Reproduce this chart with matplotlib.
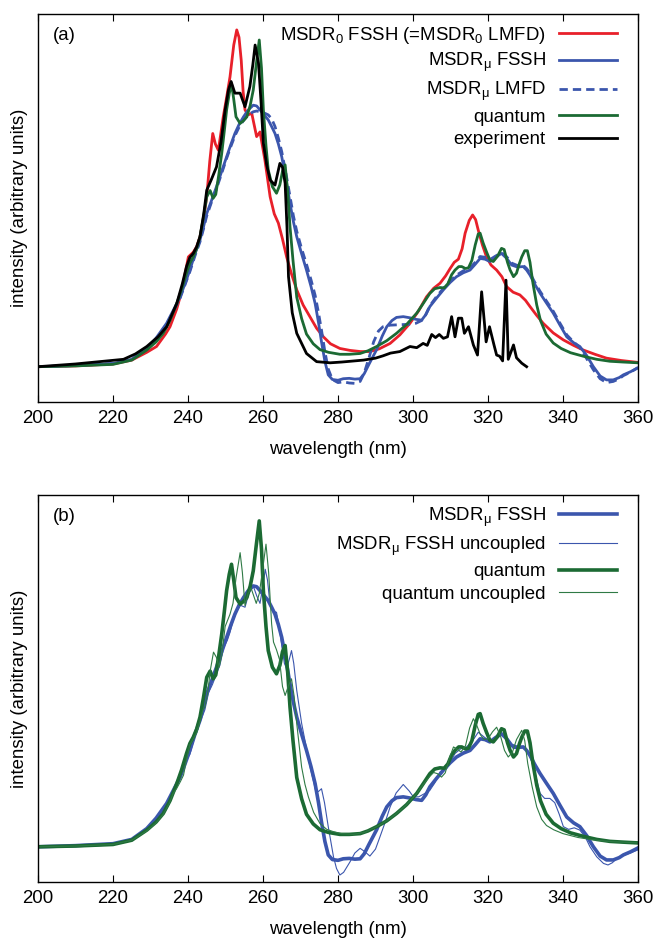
import matplotlib
matplotlib.use("Agg")
import matplotlib.pyplot as plt

plt.rcParams['font.family'] = ['Liberation Sans', 'DejaVu Sans']
plt.rcParams['mathtext.fontset'] = 'custom'
plt.rcParams['mathtext.rm'] = 'Liberation Sans'
plt.rcParams['mathtext.it'] = 'Liberation Sans:italic'
plt.rcParams['mathtext.bf'] = 'Liberation Sans:bold'

# ---------------- data (wavelength nm, intensity arb. units) ----------------
red_wl = [200, 210, 220, 225, 229, 231.6, 234, 235.2, 237, 237.9, 239, 240.1, 241.4, 242.3, 243.2, 244.2,
          245, 245.8, 246.6, 247.3, 248.1, 249.4, 250.3, 251.2, 252.2, 253, 253.6, 254.2, 254.7, 255.2, 256,
          257, 258.3, 259.2, 260.5, 261.9, 263, 264.1, 265.2, 266.3, 267.6, 269, 270.7, 272.5, 274.3, 276.1,
          278, 280.5, 283.2, 286, 288.5, 291, 293.9, 296.5, 299.2, 301.5, 303.6, 305.5, 307.2, 308.7, 309.9,
          311, 312.1, 313.1, 313.9, 315, 315.9, 316.7, 317.4, 318.5, 319.6, 320.8, 322.3, 323.7, 325, 326.7,
          328.5, 330, 331.2, 333, 334.7, 337.4, 340.1, 342.8, 345.4, 348.5, 351.6, 355.5, 360]
red_I = [9.1, 9.3, 9.8, 10.8, 12.8, 14.3, 17.5, 19.4, 24, 27.1, 32, 37.4, 38.6, 40, 42.6, 47.5,
         52.9, 62, 69.2, 66.5, 64.9, 73.5, 78.5, 83.8, 92, 95.9, 94, 88, 80, 75.3, 74,
         74.4, 68.4, 69.6, 62.4, 52.9, 48.5, 46.1, 42, 37.4, 33, 28.9, 25, 22.0, 19.0, 16.8,
         15.0, 13.8, 13.3, 13.0, 13.0, 13.7, 15.1, 17.3, 20.3, 23.5, 27.1, 29.3, 30.6, 32.5, 34.4,
         36, 36.8, 39.5, 43.5, 46.8, 48.2, 47, 44.3, 40.5, 37.4, 35.3, 34.0, 32.3, 29.7, 28.3,
         27.6, 26.2, 24.6, 22.3, 20.3, 17.8, 16.0, 14.6, 13.4, 12.3, 11.3, 10.7, 10.2]

blue_wl = [200, 210, 220, 225, 229, 231.5, 234.3, 236, 237.9, 239.2, 240.5, 241.8, 243.2, 244.1, 245, 246.3,
           247.6, 249, 250.3, 251.4, 252.5, 253.6, 254.8, 256, 257.4, 258.3, 259.2, 260.3, 261.4, 262.3,
           263.2, 264.1, 265, 266.1, 267.2, 268.1, 269, 270.3, 271.6, 272.8, 273.9, 274.8, 275.6, 276.5,
           277.4, 278.5, 280, 281.4, 283, 284.5, 285.9, 287, 288.3, 290.3, 291.8, 293, 294.4, 295.6, 297.4,
           299.2, 300.8, 302.3, 303.4, 304.5, 306.3, 308.1, 309.9, 311.6, 313.4, 315.2, 316.6, 317.9, 319.2,
           320.5, 322, 323.6, 325, 326.3, 327.8, 329.4, 330.3, 331.2, 332.5, 333.9, 335.6, 337.4, 339.2,
           341, 342.8, 344.5, 346.3, 348.1, 349.9, 351.6, 353.4, 355, 356.1, 358, 360]
blue_I = [9.1, 9.4, 9.9, 11.0, 13.8, 16.5, 20.3, 23.5, 27.1, 30.5, 34.0, 38, 41.8, 45, 48.6, 52,
          55.5, 59.5, 63.2, 66.3, 69.2, 71.5, 73.5, 75.2, 76.5, 76.3, 75.3, 74, 72.7, 71,
          69.2, 66.5, 63.2, 57.5, 51.2, 46.5, 42.6, 38.2, 34.0, 29.8, 25.4, 20.5, 15.5, 10.5,
          7.0, 5.8, 5.6, 6.0, 6.1, 5.9, 6.0, 7.3, 9.8, 13.5, 17.0, 19.4, 21.0, 21.8, 22.0,
          21.7, 21.3, 21.1, 22.5, 24.6, 26.8, 28.9, 30.8, 32.3, 33.3, 34.0, 35.5, 37.0, 36.8,
          36.2, 37.3, 38.3, 37.0, 35.3, 34.8, 34.9, 34, 32.7, 30.3, 28.0, 25.5, 22.9, 19.8,
          16.8, 15.3, 14.3, 12.0, 9.1, 6.7, 5.7, 5.7, 6.3, 7.0, 7.8, 8.8]

bdash_wl = [200, 210, 220, 225, 229, 231.5, 234.3, 236, 237.9, 239.2, 240.5, 241.8, 243.2, 244.1, 245, 246.3,
            247.6, 249, 250.3, 251.4, 252.5, 253.6, 254.8, 256, 257.4, 258.3, 259.2, 260.3, 261.4, 262.3,
            263.2, 264.1, 265, 266.1, 267.2, 268.1, 269, 270.3, 271.6, 272.8, 273.9, 274.8, 275.6, 276.5,
            277.4, 278.5, 280, 281.4, 283, 284.5, 285.9, 287, 288.3, 289.5, 290.8, 292, 293.9, 296, 298.5,
            300.8, 302.3, 303.4, 304.5, 306.3, 308.1, 309.9, 311.6, 313.4, 315.2, 316.6, 317.9, 319.2,
            320.5, 322, 323.6, 325, 326.3, 327.8, 329.4, 330.3, 331.2, 332.5, 333.9, 335.6, 337.4, 339.2,
            341, 342.8, 344.5, 346.3, 348.1, 349.9, 351.6, 353.4, 355, 356.1, 358, 360]
bdash_I = [9.1, 9.4, 9.9, 11.0, 13.6, 16.2, 20.0, 23.2, 26.8, 30.2, 33.6, 37.5, 41.3, 44.5, 48.0, 51.6,
           55.0, 59.0, 62.8, 65.8, 68.6, 70.8, 72.6, 74.0, 74.8, 75.0, 74.8, 74.5, 74.0, 73.0,
           71.0, 68.0, 64.5, 59.0, 53.0, 48.0, 44.0, 39.5, 35.5, 31.5, 27.5, 23.0, 18.5, 13.0,
           8.5, 5.8, 5.0, 5.2, 4.9, 4.8, 5.3, 7.5, 11.5, 15.5, 18.3, 19.4, 19.8, 19.9, 20.0,
           20.3, 21.0, 22.5, 24.8, 27.2, 29.3, 31.2, 32.7, 33.8, 34.6, 36.0, 37.5, 37.3,
           36.7, 37.6, 38.5, 37.4, 35.8, 35.2, 35.2, 34.4, 33.2, 30.8, 28.5, 26.0, 23.4, 20.3,
           17.3, 15.5, 14.0, 11.2, 8.3, 6.0, 5.0, 5.3, 6.0, 6.8, 7.7, 8.9]

green_wl = [200, 210, 220, 225, 229, 231.5, 233.4, 235.2, 237, 238.3, 239.6, 240.5, 241.4, 242.3, 243.2, 244.1,
            245, 245.9, 246.7, 247.4, 248.2, 249, 249.7, 250.3, 251, 251.6, 252.2, 252.8, 253.9, 254.8, 255.7,
            256.6, 257.4, 258.2, 259, 259.6, 260.1, 260.8, 261.4, 262.5, 263.6, 264.5, 265.2, 265.9, 266.6,
            267.2, 268, 269, 270.3, 271.6, 273.4, 275.2, 277.5, 280.5, 283, 285.9, 288, 290.3, 293, 295.6,
            298.3, 301, 302.8, 304.5, 305.8, 307.2, 308.3, 309.3, 310.3, 311.2, 312.2, 313, 314, 314.8, 315.7,
            316.6, 317.4, 317.9, 318.7, 319.6, 320.5, 321.4, 322.5, 323.6, 324.3, 325.2, 325.9, 326.8, 327.6,
            328.3, 329, 329.8, 330.5, 331.2, 332, 333, 334, 335.5, 337.4, 339.5, 342, 345.4, 349, 352.5,
            356, 360]
green_I = [9.1, 9.3, 9.7, 10.8, 13.4, 15.5, 17.7, 21, 25.4, 29, 33.2, 35.8, 37.4, 39.5, 42.6, 47.5,
           52.9, 54.5, 52.5, 53.5, 58.5, 64.1, 70, 75.3, 79.5, 82.1, 78, 73.5, 71.8, 72.5, 73.5,
           76.5, 80.4, 87, 93.3, 86, 75.3, 66, 59.8, 55.5, 53.8, 56, 59.5, 61.1, 54,
           45.2, 36.5, 27, 21.5, 17.5, 15, 13.5, 12.8, 12.3, 12.3, 12.5, 13.2, 14.3, 15.8, 17.7,
           20, 22.9, 25.5, 28.0, 29.2, 29.5, 29.4, 30.5, 32.8, 34.0, 34.9, 34.9, 34.4, 34.6, 36.5,
           40.5, 43.3, 43.5, 41, 38.7, 36.6, 36.2, 37.5, 39.6, 39.3, 36, 34.0, 32.3, 33.2,
           35.5, 37.4, 39, 39.0, 36, 30.5, 25, 21, 17.5, 15.2, 13.8, 12.7, 11.8, 11, 10.5,
           10.3, 10.1]

black_wl = [200, 210, 222.8, 226, 229, 232, 234.3, 237, 238.5, 239.6, 240.5, 241.4, 242.3, 243.2, 244.2, 245,
            246.3, 247.6, 248.8, 249.9, 250.8, 251.5, 252.5, 253.9, 255.2, 256.5, 257.3, 257.9, 258.8, 259.5,
            260.1, 261, 261.9, 263.2, 264.5, 265.2, 265.9, 266.4, 266.8, 267.8, 269, 271.6, 274.3, 277.9,
            281, 286.8, 290, 292, 294, 296.5, 299.2, 301, 302.7, 303.8, 305, 306, 307, 308.1, 309.2, 310.3,
            311.2, 312.1, 313, 313.7, 314.8, 316.1, 317.2, 318.3, 319.5, 320.4, 321.6, 322.3, 323.1, 323.9,
            324.8, 325.4, 326.8, 327.6, 329, 330.3]
black_I = [9.1, 9.8, 11.0, 12.4, 14.3, 16.8, 19.4, 25.4, 30.5, 34.9, 37.3, 38.3, 40.0, 42.6, 48.5, 54.6,
           57.5, 60.6, 67, 75.3, 80.5, 82.6, 79.6, 79.6, 76.1, 81.3, 87, 92.0, 87.3, 77,
           66.7, 61, 57.2, 55.9, 61.5, 60.5, 56.4, 45, 32.3, 23, 17.7, 12.5, 10.4, 10.1,
           10.3, 10.8, 11.3, 11.9, 12.6, 13.0, 14.3, 14.0, 15.1, 14.6, 17.4, 16.6, 17.4, 16.4, 16.8, 22.0,
           16.8, 21.6, 21.6, 17.7, 19.4, 14.7, 12.1, 28.4, 15.5, 19.4, 14.7, 12.1, 11.8, 10.6,
           31.4, 11.0, 14.7, 11.4, 10.0, 9.1]

bthin_wl = [200, 210, 220, 225, 229, 231.5, 234.3, 236, 237.5, 238.5, 239.5, 240.5, 241.5, 242.5, 243.5, 244.5,
            245.5, 246.5, 247.5, 248.5, 249.5, 250.5, 251.2, 252, 253, 254, 255.2, 256.2, 257.4, 258.3, 259.2,
            260, 260.6, 261.2, 261.9, 262.6, 263.6, 264.3, 265, 265.7, 266.3, 267, 267.6, 268.2, 269, 270.3,
            271.7, 272.6, 273.4, 274.1, 274.8, 275.6, 276.4, 277.4, 278.8, 279.6, 280.5, 281.5, 283.2, 284.5,
            285.9, 287.2, 288.5, 290, 291.2, 292.6, 293.9, 295.5, 297.4, 299, 300.1, 301.5, 303, 304.5, 305.8,
            307.2, 308.2, 309, 310.1, 311.2, 312.7, 314.3, 315.9, 317.4, 318.8, 320.1, 321.3, 322.5, 323.8,
            325.2, 326.7, 328, 329.5, 331, 332.2, 333.9, 335.1, 336.5, 337.8, 339, 340.1, 341.5, 343, 344.5,
            346, 347.2, 349, 350.8, 352, 353.2, 354.3, 356.5, 358, 360]
bthin_I = [9.1, 9.4, 9.9, 11.0, 13.6, 16.2, 20.0, 23.0, 25.8, 28.5, 31.5, 33.0, 36.5, 40.0, 42.0, 44.5,
           49.0, 51.0, 53.5, 56.0, 60.5, 62.5, 64.5, 67.5, 70.0, 71.5, 71.0, 74.5, 76.5, 74.0, 72.0,
           76.5, 80.8, 78, 71.4, 70, 69.7, 66, 61.1, 56.5, 55.2, 57.5, 59.8, 56.5, 49.5, 41.0,
           34.0, 29.5, 26.3, 23.3, 23.4, 24.1, 20.5, 14.3, 6.5, 3.5, 1.8, 2.5, 5.2, 7.5,
           8.7, 7.8, 6.7, 8.5, 11.7, 15.5, 19.4, 23.0, 25.2, 23.5, 22.0, 22.0, 22.8, 23.7, 25.6,
           28.4, 29.1, 29.3, 31.3, 33.2, 34.4, 34.9, 36.5, 38.7, 37.6, 36.6, 36.7, 38.0, 38.3,
           36.5, 34.5, 34.5, 34.8, 33.0, 29.5, 22.9, 21.6, 21.6, 20.5, 17.5, 14.3, 13.6, 14.0, 13.4,
           11.5, 9.1, 6.5, 4.8, 4.4, 5.0, 6.1, 7.0, 7.5, 8.3]

gthin_wl = [200, 210, 220, 225, 229, 231.5, 233.4, 235, 236, 237, 238, 238.8, 239.6, 240.5, 241.4, 242.3,
            243.2, 244, 244.5, 245.2, 246, 246.8, 247.6, 248.3, 249, 249.9, 251.2, 252, 252.8, 253.9, 254.5,
            255.2, 256, 256.8, 257.5, 258.2, 259, 259.8, 260.8, 261.5, 262.3, 262.8, 263.6, 264.4, 265.2,
            265.9, 266.7, 267.6, 268.3, 269, 270.3, 271.2, 272.1, 273.5, 275.2, 277, 278.8, 281, 284, 287,
            290.3, 293, 295.6, 298.3, 301, 302.8, 304.5, 305.5, 306.5, 307.6, 308.6, 309.7, 310.8, 311.8,
            312.8, 314, 315.1, 316.1, 317, 318, 319, 320, 321.2, 322.3, 323.4, 324.4, 325.4, 326.5, 327.6,
            329, 329.8, 330.6, 331.8, 333, 334.3, 335.6, 337.5, 340, 344, 348, 352, 356, 360]
gthin_I = [9.1, 9.3, 9.7, 10.8, 13.2, 15.3, 17.5, 20.3, 22.8, 24.2, 26.0, 27.6, 31.5, 35.5, 37.0, 38.5,
           41.5, 44.5, 45.2, 48.5, 55.0, 59.4, 58.0, 55.5, 58.5, 66.0, 69.2, 72.0, 78.5, 85.1, 80.0,
           71.4, 74.5, 76.0, 74.0, 72.0, 74.5, 80.0, 87.3, 80.0, 66.7, 62.0, 60.0, 57.5, 50.5,
           48.2, 50.5, 52.5, 48.0, 40.9, 29.7, 25.2, 22.0, 18.0, 15.1, 13.6, 13.0, 12.5, 12.3, 12.8,
           14.3, 15.8, 17.7, 20.0, 22.9, 25.3, 27.3, 28.3, 28.0, 27.1, 28.2, 32.0, 34.9, 34.3,
           33.6, 35.2, 39.8, 42.2, 40.5, 38.0, 36.8, 37.0, 38.8, 40.0, 37.5, 34.0, 32.3, 33.5, 36.8,
           39.2, 36.5, 30.6, 24.5, 19.4, 16.2, 14.6, 13.5, 12.5, 11.5, 10.9, 10.5, 10.3, 10.1]

xticks = [200, 220, 240, 260, 280, 300, 320, 340, 360]

labels_a = ["MSDR$_0$ FSSH (=MSDR$_0$ LMFD)", "MSDR$_\\mathrm{\\mu}$ FSSH", "MSDR$_\\mathrm{\\mu}$ LMFD",
            "quantum", "experiment"]
labels_b = ["MSDR$_\\mathrm{\\mu}$ FSSH", "MSDR$_\\mathrm{\\mu}$ FSSH uncoupled", "quantum", "quantum uncoupled"]

RED = "#e8202a"
BLUE = "#3b56ad"
GREEN = "#1b6a33"
GREEN_THIN = "#2f7a45"
BLACK = "#000000"

fig = plt.figure(figsize=(6.58, 9.40), dpi=100)
ax1 = fig.add_axes([38/658, 1-402/940, 600/658, 388/940])
ax2 = fig.add_axes([38/658, 1-882/940, 600/658, 387/940])

FS = 13.4

ax1.plot(red_wl, red_I, color=RED, lw=2.0, label=labels_a[0])
ax1.plot(blue_wl, blue_I, color=BLUE, lw=2.0, label=labels_a[1])
ax1.plot(bdash_wl, bdash_I, color=BLUE, lw=2.0, ls=(0, (3, 1.8)), label=labels_a[2])
ax1.plot(green_wl, green_I, color=GREEN, lw=2.0, label=labels_a[3])
ax1.plot(black_wl, black_I, color=BLACK, lw=2.0, label=labels_a[4])

ax2.plot(blue_wl, blue_I, color=BLUE, lw=2.6, label=labels_b[0])
ax2.plot(bthin_wl, bthin_I, color=BLUE, lw=0.8, label=labels_b[1])
ax2.plot(green_wl, green_I, color=GREEN, lw=2.6, label=labels_b[2])
ax2.plot(gthin_wl, gthin_I, color=GREEN_THIN, lw=0.8, label=labels_b[3])

for ax, tag in ((ax1, "(a)"), (ax2, "(b)")):
    ax.set_xlim(200, 360)
    ax.set_ylim(0, 100)
    ax.set_xticks(xticks)
    ax.set_yticks([])
    ax.tick_params(axis='x', direction='in', length=5, width=0.8, top=True, bottom=True,
                   labelsize=FS, pad=6)
    ax.set_xlabel("wavelength (nm)", fontsize=FS, labelpad=10)
    ax.set_ylabel("intensity (arbitrary units)", fontsize=FS, labelpad=7)
    for s in ax.spines.values():
        s.set_linewidth(1.0)
    ax.text(0.025, 0.945, tag, transform=ax.transAxes, fontsize=FS, ha='left', va='center')
    leg = ax.legend(loc='upper right', bbox_to_anchor=(0.986, 1.006), frameon=False, fontsize=FS,
                    markerfirst=False, handlelength=3.1, handletextpad=0.7, labelspacing=0.3,
                    borderpad=0.2)
    for t in leg.get_texts():
        t.set_ha('right')

fig.savefig("out.png", dpi=100)
